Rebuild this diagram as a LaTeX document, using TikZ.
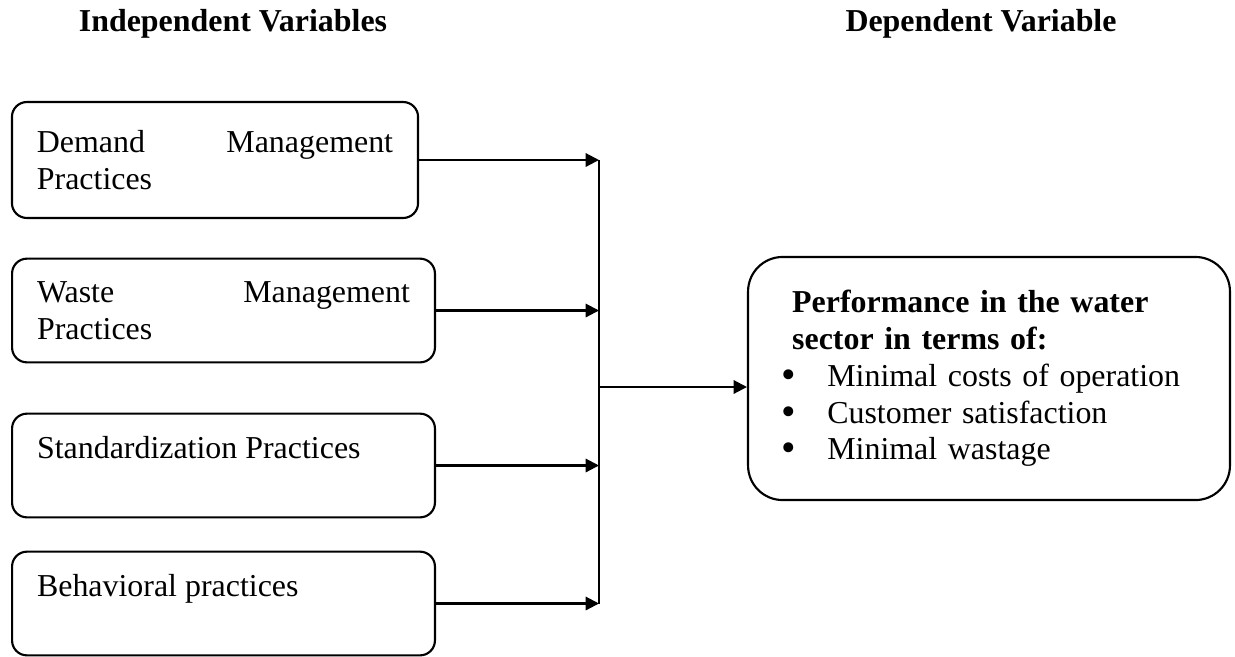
\documentclass[tikz,border=0pt]{standalone}
\usepackage{fontspec}
\usepackage{graphicx}
\setmainfont{Liberation Serif}
\usetikzlibrary{arrows.meta}
\newcommand{\itemdot}{\smash{\raisebox{-0.8pt}{\scalebox{1.3}{\textbullet}}}}
\begin{document}
\begin{tikzpicture}
  [x=0.376pt,y=-0.376pt,line width=0.8pt,
   every node/.style={font=\fontsize{12}{13.8}\selectfont},
   head/.style={font=\bfseries\fontsize{12}{13.8}\selectfont},
   ivbox/.style={draw,rounded corners=5.6pt,minimum width=159pt,minimum height=39pt,
     text width=140.2pt,inner xsep=9.4pt,align=justify},
   dvbox/.style={draw,rounded corners=13pt,minimum width=181.2pt,minimum height=91.4pt,
     text width=148pt,inner xsep=16.5pt,align=left},
   feed/.style={-{Triangle[length=5pt,width=5pt]}}]
  \useasboundingbox (0,0) rectangle (1235,656);
  \node[head] (iv) at (233,24) {Independent Variables};
  \node[head] (dv) at (981,24) {Dependent Variable};

  \node[ivbox,minimum width=152.7pt,minimum height=43.6pt,text width=133.9pt] (dm) at (215,160)
    {Demand\hfill Management\\Practices};
  \node[ivbox] (wm) at (223.5,310.5) {Waste\hfill Management\\Practices};
  \node[ivbox] (sp) at (223.5,465.5) {Standardization Practices\\\mbox{}};
  \node[ivbox] (bp) at (223.5,603.5) {Behavioral practices\\\mbox{}};

  \node[dvbox] (perf) at (989,378.5)
    {\textbf{Performance in the water}\\
     \textbf{sector in terms of:}\\
     \hspace*{-4.1pt}\makebox[17.3pt][l]{\itemdot}Minimal costs of operation\\
     \hspace*{-4.1pt}\makebox[17.3pt][l]{\itemdot}Customer satisfaction\\
     \hspace*{-4.1pt}\makebox[17.3pt][l]{\itemdot}Minimal wastage};

  \coordinate (jtop) at (599,160);
  \coordinate (jbot) at (599,603.5);
  \coordinate (jmid) at (599,387);

  \draw (jtop) -- (jbot);
  \foreach \n in {dm,wm,sp,bp}
    \draw[feed] (\n.east) -- (\n.east -| jtop);
  \draw[feed] (jmid) -- (jmid -| perf.west);
\end{tikzpicture}
\end{document}
